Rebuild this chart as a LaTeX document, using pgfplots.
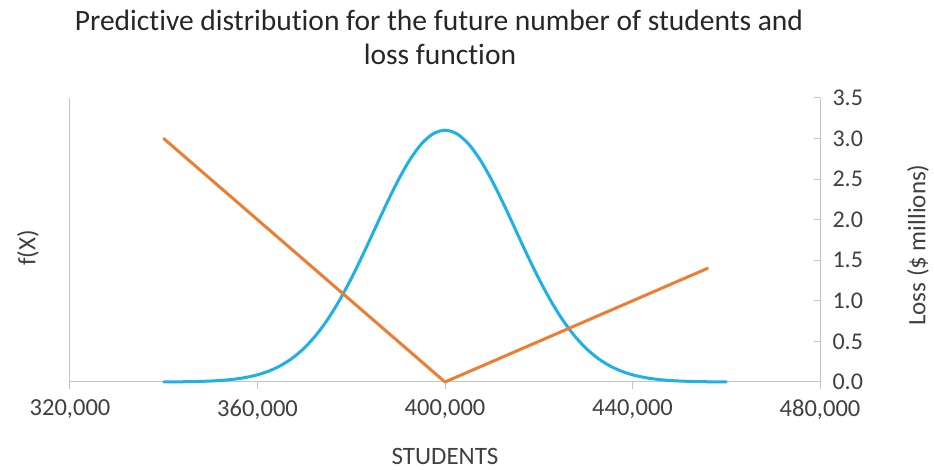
\documentclass[border=0pt]{standalone}
\usepackage{pgfplots}
\pgfplotsset{compat=1.18}
\usepackage{fontspec}
\setmainfont{Carlito}[Ligatures=NoCommon]
\definecolor{pdfblue}{RGB}{31,176,230}
\definecolor{lossorange}{RGB}{237,125,49}
\definecolor{axisgray}{RGB}{196,196,196}
\definecolor{textgray}{RGB}{64,64,64}
\definecolor{titlegray}{RGB}{38,38,38}

\begin{document}
\begin{tikzpicture}
\useasboundingbox (-70pt,-88pt) rectangle (864pt,382pt);

% predictive density of the number of students (units of 1e-5)
\begin{axis}[
  at={(0,0)}, anchor=south west,
  width=750pt, height=284pt, scale only axis,
  xmin=320000, xmax=480000, ymin=0, ymax=3.0,
  axis x line*=bottom, axis y line*=left,
  axis line style={axisgray, line width=1pt},
  xtick={320000,360000,400000,440000,480000},
  ytick=\empty,
  scaled x ticks=false,
  xticklabel style={/pgf/number format/fixed, /pgf/number format/1000 sep={,},
    font=\fontsize{24.5}{28}\selectfont, text=textgray, yshift=-7pt},
  /pgf/number format/assume math mode=true,
  major tick length=7pt,
  tick style={axisgray, line width=1pt},
  xtick align=outside,
  xlabel={STUDENTS},
  xlabel style={at={(axis description cs:0.5,-0.264)}, anchor=center, font=\fontsize{25}{29}\selectfont, text=textgray},
  ylabel={f(X)},
  ylabel style={at={(axis description cs:-0.056,0.472)}, anchor=center, font=\fontsize{25}{29}\selectfont, text=textgray},
  clip=false,
]
\addplot[pdfblue, line width=3pt, smooth, line cap=round] coordinates {
(340000,0.00089) (342500,0.00171) (345000,0.00320) (347500,0.00582) (350000,0.01028)
(352500,0.01767) (355000,0.02955) (357500,0.0480) (360000,0.0760) (362500,0.1169)
(365000,0.1748) (367500,0.2543) (370000,0.3599) (372500,0.4954) (375000,0.6632)
(377500,0.8634) (380000,1.0934) (382500,1.3466) (385000,1.6131) (387500,1.8794)
(390000,2.1296) (392500,2.3471) (395000,2.5159) (397500,2.6229) (400000,2.6596)
(402500,2.6229) (405000,2.5159) (407500,2.3471) (410000,2.1296) (412500,1.8794)
(415000,1.6131) (417500,1.3466) (420000,1.0934) (422500,0.8634) (425000,0.6632)
(427500,0.4954) (430000,0.3599) (432500,0.2543) (435000,0.1748) (437500,0.1169)
(440000,0.0760) (442500,0.0480) (445000,0.02955) (447500,0.01767) (450000,0.01028)
(452500,0.00582) (455000,0.00320) (457500,0.00171) (460000,0.00089)
};
\end{axis}

% loss function, $ millions
\begin{axis}[
  at={(0,0)}, anchor=south west,
  width=750pt, height=284pt, scale only axis,
  xmin=320000, xmax=480000, ymin=0, ymax=3.5,
  axis x line=none, axis y line*=right,
  axis line style={axisgray, line width=1pt},
  ytick={0,0.5,...,3.5},
  yticklabel style={/pgf/number format/fixed, /pgf/number format/fixed zerofill,
    /pgf/number format/precision=1,
    font=\fontsize{24}{28}\selectfont, text=textgray, anchor=west, xshift=9pt},
  /pgf/number format/assume math mode=true,
  ytick align=inside,
  major tick length=6pt,
  tick style={axisgray, line width=1pt},
  ylabel={Loss (\$ millions)},
  ylabel style={at={(axis description cs:1.1307,0.482)}, anchor=center, font=\fontsize{25}{29}\selectfont, text=textgray},
  clip=false,
]
\addplot[lossorange, line width=3pt, line cap=round, line join=round] coordinates {
(340000,3.0) (400000,0) (456000,1.40)
};
\end{axis}

\node[text=titlegray, font=\fontsize{29.5}{34}\selectfont] at (369pt,362pt) {Predictive distribution for the future number of students and};
\node[text=titlegray, font=\fontsize{29.5}{34}\selectfont] at (370pt,328pt) {loss function};
\end{tikzpicture}
\end{document}
